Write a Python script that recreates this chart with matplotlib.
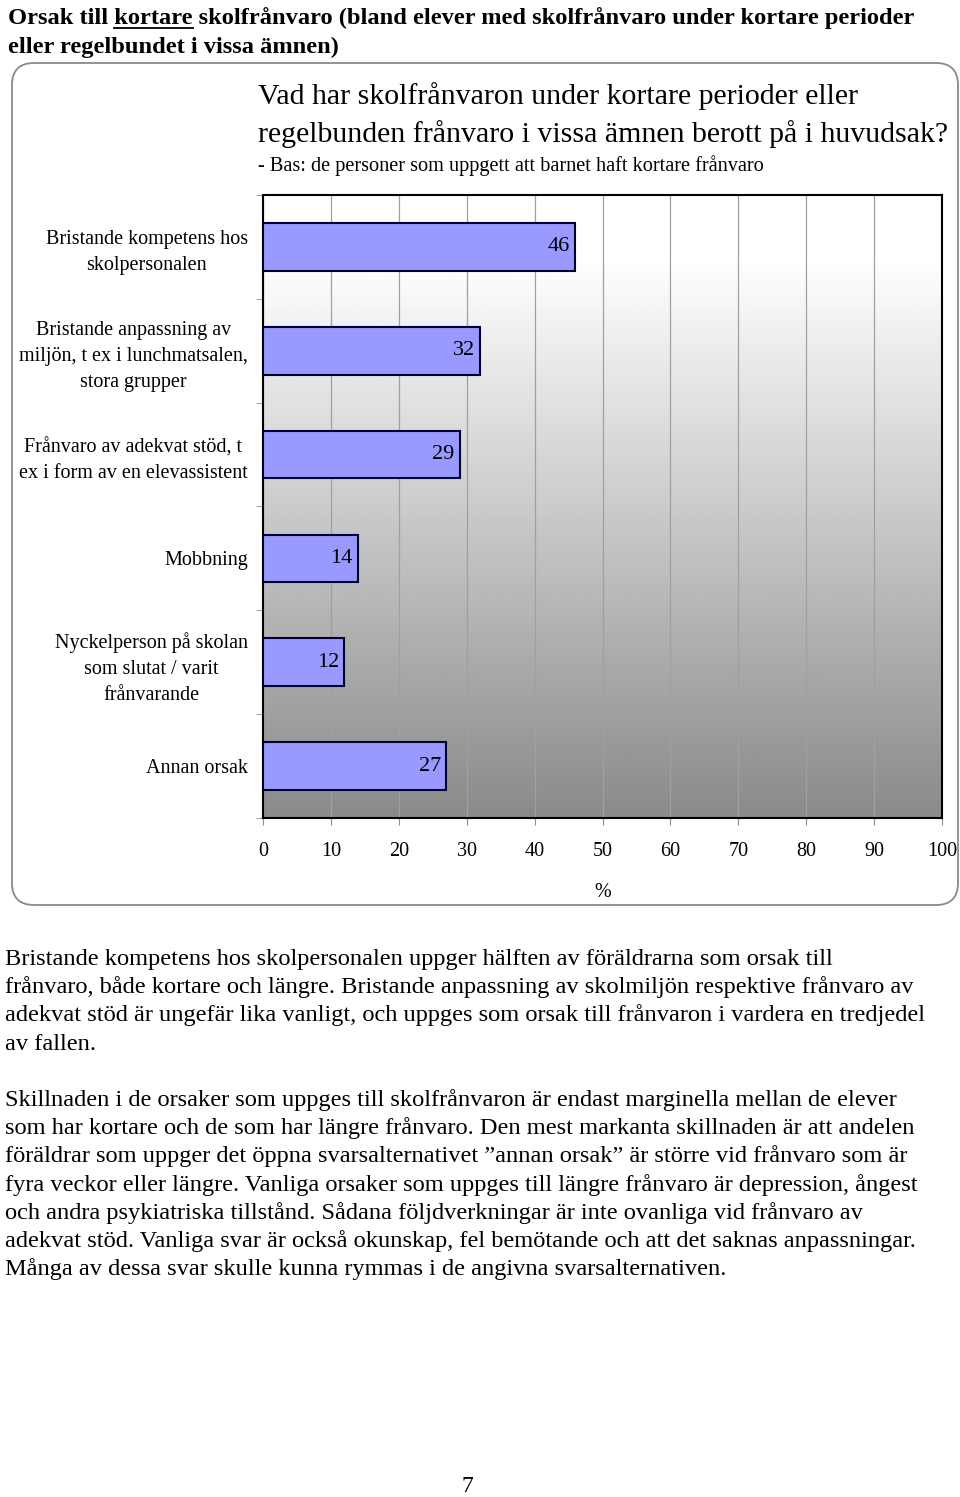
import numpy as np
import matplotlib
matplotlib.use("Agg")
import matplotlib.pyplot as plt
from matplotlib.patches import FancyBboxPatch
from matplotlib.lines import Line2D

plt.rcParams['font.family'] = ['Liberation Serif', 'DejaVu Serif']

# ---- data ----
categories = [
    "Bristande kompetens hos\nskolpersonalen",
    "Bristande anpassning av\nmiljön, t ex i lunchmatsalen,\nstora grupper",
    "Frånvaro av adekvat stöd, t\nex i form av en elevassistent",
    "Mobbning",
    "Nyckelperson på skolan\nsom slutat / varit\nfrånvarande",
    "Annan orsak",
]
values = [46, 32, 29, 14, 12, 27]
xticks = [0, 10, 20, 30, 40, 50, 60, 70, 80, 90, 100]

page_title_1 = "Orsak till kortare skolfrånvaro (bland elever med skolfrånvaro under kortare perioder"
page_title_2 = "eller regelbundet i vissa ämnen)"
chart_title_1 = "Vad har skolfrånvaron under kortare perioder eller"
chart_title_2 = "regelbunden frånvaro i vissa ämnen berott på i huvudsak?"
chart_subtitle = "- Bas: de personer som uppgett att barnet haft kortare frånvaro"
body_lines = [
    "Bristande kompetens hos skolpersonalen uppger hälften av föräldrarna som orsak till",
    "frånvaro, både kortare och längre. Bristande anpassning av skolmiljön respektive frånvaro av",
    "adekvat stöd är ungefär lika vanligt, och uppges som orsak till frånvaron i vardera en tredjedel",
    "av fallen.",
    "",
    "Skillnaden i de orsaker som uppges till skolfrånvaron är endast marginella mellan de elever",
    "som har kortare och de som har längre frånvaro. Den mest markanta skillnaden är att andelen",
    "föräldrar som uppger det öppna svarsalternativet ”annan orsak” är större vid frånvaro som är",
    "fyra veckor eller längre. Vanliga orsaker som uppges till längre frånvaro är depression, ångest",
    "och andra psykiatriska tillstånd. Sådana följdverkningar är inte ovanliga vid frånvaro av",
    "adekvat stöd. Vanliga svar är också okunskap, fel bemötande och att det saknas anpassningar.",
    "Många av dessa svar skulle kunna rymmas i de angivna svarsalternativen.",
]
page_number = "7"

W, H = 960, 1497
fig = plt.figure(figsize=(W / 100, H / 100), dpi=100)
fig.patch.set_facecolor('white')

# background page axes in pixel coordinates
bg = fig.add_axes([0, 0, 1, 1], zorder=0)
bg.set_xlim(0, W)
bg.set_ylim(H, 0)
bg.axis('off')

HDR = 17.6
# page header
bg.text(8, 24, page_title_1, fontsize=HDR, fontweight='bold', ha='left', va='baseline')
bg.text(8, 53, page_title_2, fontsize=HDR, fontweight='bold', ha='left', va='baseline')

# rounded frame
frame = FancyBboxPatch((12, 63), 946, 842, boxstyle="round,pad=0,rounding_size=22",
                       fc='white', ec='#8a8a8a', lw=1.3)
bg.add_patch(frame)

# chart titles
bg.text(258, 104, chart_title_1, fontsize=21.5, ha='left', va='baseline')
bg.text(258, 142, chart_title_2, fontsize=21.5, ha='left', va='baseline')
bg.text(258, 171, chart_subtitle, fontsize=14.6, ha='left', va='baseline')

# body text
for k, line in enumerate(body_lines):
    if line:
        bg.text(5, 965 + k * 28.2, line, fontsize=17.6, ha='left', va='baseline')

bg.text(467, 1486, page_number, fontsize=17, ha='center', va='center')

# ---- chart axes ----
L, R, T, B = 263, 942, 195, 818
ax = fig.add_axes([L / W, 1 - B / H, (R - L) / W, (B - T) / H], zorder=2)

# gradient background
n = 256
pos = np.linspace(0, 1, n)
gray = np.where(pos < 0.1, 255, 255 - 117 * (pos - 0.1) / 0.9) / 255.0
grad = np.repeat(gray[:, None], 2, axis=1)
ax.imshow(grad, cmap='gray', vmin=0, vmax=1, extent=(0, 1, 0, 1), transform=ax.transAxes,
          aspect='auto', origin='upper', zorder=0, interpolation='bilinear')

ypos = np.arange(len(categories))
ax.barh(ypos, values, height=0.46, color='#9999ff', edgecolor='#000033', linewidth=1.5, zorder=3)
for y, v in zip(ypos, values):
    ax.annotate(str(v), xy=(v, y), xytext=(-4, 0), textcoords='offset points',
                ha='right', va='center', fontsize=16, zorder=4)

ax.set_xlim(0, 100)
ax.set_ylim(len(categories) - 0.5, -0.5)
ax.set_xticks(xticks)
ax.set_xticklabels([str(x) for x in xticks], fontsize=14.5)
ax.xaxis.grid(True, color='#a0a0a0', lw=0.9, zorder=1)
ax.set_axisbelow(True)
ax.set_yticks(ypos)
ax.set_yticklabels(categories, fontsize=14.5, multialignment='center', linespacing=1.5)
ax.set_yticks(np.arange(-0.5, len(categories), 1.0), minor=True)
ax.tick_params(axis='y', which='major', length=0, pad=11)
ax.tick_params(axis='y', which='minor', length=5, color='#909090', direction='out')
ax.tick_params(axis='x', which='major', length=5, color='#909090', direction='out', pad=12)
ax.set_xlabel('%', fontsize=14.5, labelpad=16)
for s in ax.spines.values():
    s.set_color('black')
    s.set_linewidth(1.5)

# underline "kortare" in header
fig.canvas.draw()
r = fig.canvas.get_renderer()
tmp1 = bg.text(8, 24, "Orsak till ", fontsize=HDR, fontweight='bold', ha='left', va='baseline')
tmp2 = bg.text(8, 24, "Orsak till kortare", fontsize=HDR, fontweight='bold', ha='left', va='baseline')
x0 = tmp1.get_window_extent(r).x1
x1 = tmp2.get_window_extent(r).x1
tmp1.remove(); tmp2.remove()
inv = bg.transData.inverted()
xa = inv.transform((x0, 0))[0]
xb = inv.transform((x1, 0))[0]
bg.add_line(Line2D([xa, xb], [27.5, 27.5], color='black', lw=1.3))

fig.savefig('out.png', dpi=100)
